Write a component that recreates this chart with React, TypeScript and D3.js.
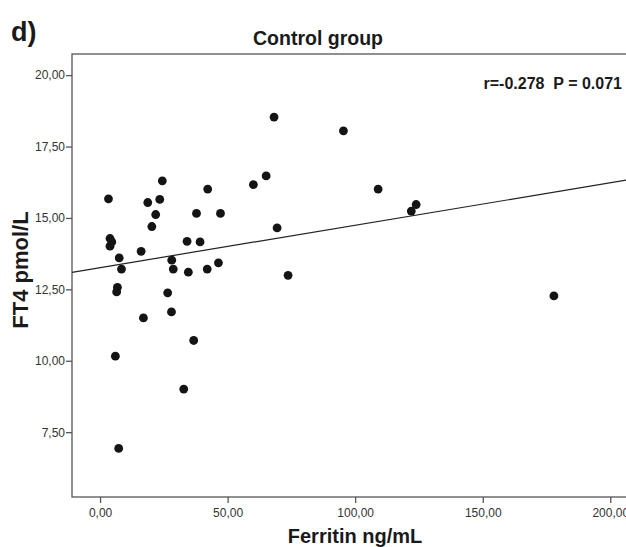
import * as d3 from 'd3';
import React, { useRef, useEffect } from 'react';

// Ferritin (ng/mL) and FT4 (pmol/L) for the control group
const ferritin = [
    3.3, 24.4, 18.7, 23.4, 21.8, 20.3, 42.2, 60.1, 65.1, 37.8, 47.2, 69.4,
    3.9, 4.6, 3.9, 16.1, 7.5, 8.4, 34.1, 39.2, 28.1, 28.7, 34.6, 42.0, 46.4,
    73.7, 6.8, 6.5, 26.5, 28.0, 17.0, 36.7, 6.0, 32.8, 7.3, 68.2, 95.4,
    109.0, 122.0, 123.9, 177.9
];
const ft4 = [
    15.67, 16.30, 15.54, 15.65, 15.12, 14.70, 16.01, 16.17, 16.47, 15.16, 15.16, 14.65,
    14.28, 14.16, 14.01, 13.83, 13.60, 13.21, 14.18, 14.16, 13.52, 13.21, 13.10, 13.21, 13.43,
    12.99, 12.57, 12.41, 12.38, 11.71, 11.50, 10.71, 10.16, 9.01, 6.93, 18.53, 18.05,
    16.01, 15.24, 15.47, 12.27
];
const xTicks = [0, 50, 100, 150, 200];
const yTicks = [7.5, 10, 12.5, 15, 17.5, 20];
// fit line as drawn in the figure
const fitIntercept = 13.26;
const fitSlope = 0.01485;

const fmt = (v) => v.toFixed(2).replace('.', ',');

function ScatterChart({ width, height }) {
    const ref = useRef();

    useEffect(() => {
        const svg = d3.select(ref.current);
        svg.selectAll("*").remove();

        const x = d3.scaleLinear().domain([-11, 214]).range([72, 646]);
        const y = d3.scaleLinear().domain([5.23, 20.74]).range([497, 54]);
        const font = "'Liberation Sans', Arial, sans-serif";

        // frame
        svg.append("rect")
            .attr("x", x(-11))
            .attr("y", y(20.74))
            .attr("width", x(214) - x(-11))
            .attr("height", y(5.23) - y(20.74))
            .attr("fill", "none")
            .attr("stroke", "#555")
            .attr("stroke-width", 1.3);

        // X axis
        const xg = svg.append("g")
            .attr("transform", `translate(0, ${y(5.23)})`)
            .call(d3.axisBottom(x).tickValues(xTicks).tickSize(6).tickPadding(5).tickFormat(fmt));
        xg.select(".domain").remove();
        xg.selectAll("line").attr("stroke", "#555").attr("stroke-width", 1.3);
        xg.selectAll("text")
            .attr("fill", "#333")
            .style("font-family", font)
            .style("font-size", "12px");

        // Y axis
        const yg = svg.append("g")
            .attr("transform", `translate(${x(-11)}, 0)`)
            .call(d3.axisLeft(y).tickValues(yTicks).tickSize(6).tickPadding(1).tickFormat(fmt));
        yg.select(".domain").remove();
        yg.selectAll("line").attr("stroke", "#555").attr("stroke-width", 1.3);
        yg.selectAll("text")
            .attr("fill", "#333")
            .style("font-family", font)
            .style("font-size", "12px");

        // fit line
        svg.append("line")
            .attr("x1", x(-11))
            .attr("y1", y(fitIntercept + fitSlope * -11))
            .attr("x2", x(214))
            .attr("y2", y(fitIntercept + fitSlope * 214))
            .attr("stroke", "#222")
            .attr("stroke-width", 1.2);

        // points
        svg.selectAll("circle")
            .data(ferritin)
            .join("circle")
            .attr("cx", d => x(d))
            .attr("cy", (d, i) => y(ft4[i]))
            .attr("r", 4.4)
            .attr("fill", "#141414");

        // texts
        svg.append("text")
            .attr("x", 11).attr("y", 41)
            .style("font-family", font).style("font-size", "27px").style("font-weight", "bold")
            .attr("fill", "#1a1a1a")
            .text("d)");

        svg.append("text")
            .attr("x", 318).attr("y", 45)
            .attr("text-anchor", "middle")
            .style("font-family", font).style("font-size", "19.5px").style("font-weight", "bold")
            .attr("fill", "#1a1a1a")
            .text("Control group");

        svg.append("text")
            .attr("x", 622).attr("y", 89)
            .attr("text-anchor", "end")
            .style("font-family", font).style("font-size", "16px").style("font-weight", "bold")
            .attr("fill", "#1a1a1a")
            .style("white-space", "pre")
            .attr("xml:space", "preserve")
            .text("r=-0.278  P = 0.071");

        svg.append("text")
            .attr("x", 355).attr("y", 543)
            .attr("text-anchor", "middle")
            .style("font-family", font).style("font-size", "20px").style("font-weight", "bold")
            .attr("fill", "#1a1a1a")
            .text("Ferritin ng/mL");

        svg.append("text")
            .attr("transform", `translate(28, 270) rotate(-90)`)
            .attr("text-anchor", "middle")
            .style("font-family", font).style("font-size", "22px").style("font-weight", "bold")
            .attr("fill", "#1a1a1a")
            .text("FT4 pmol/L");
    }, []);

    return (
        <svg ref={ref} width={width} height={height}
            style={{ position: "absolute", left: 0, top: 0, background: "#fff" }}>
        </svg>
    );
}

export default function App() {
    return <ScatterChart width={626} height={547} />;
}
